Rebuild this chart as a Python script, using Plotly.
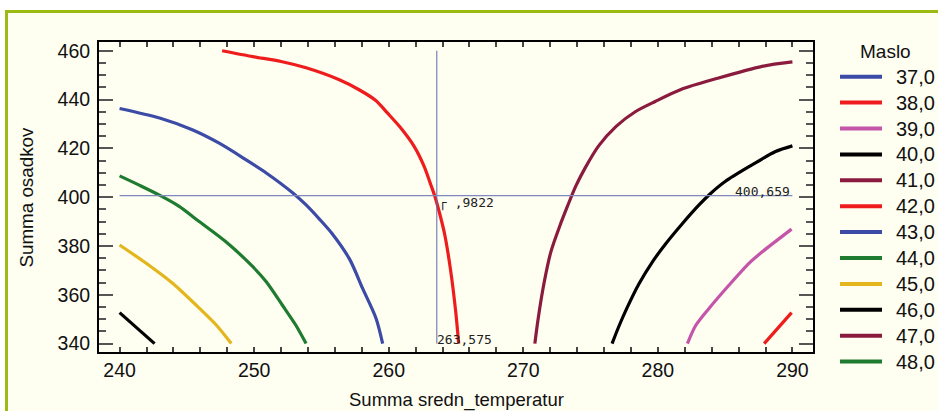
import plotly.graph_objects as go

# ---- data ----
levels = ["37,0", "38,0", "39,0", "40,0", "41,0", "42,0", "43,0", "44,0", "45,0", "46,0", "47,0", "48,0"]
colors = ["#3B4BA6", "#EE1C1C", "#C455A9", "#000000", "#8A1B3E", "#EE1C1C",
          "#3B4BA6", "#1E7B2F", "#E2B61C", "#000000", "#8A1B3E", "#1E7B2F"]
legend_title = "Maslo"

# contour curves (x = Summa sredn_temperatur, y = Summa osadkov)
c38_x = [289.94, 287.9]
c38_y = [352.7, 340.0]
c39_x = [289.94, 287.76, 286.77, 285.28, 283.8, 282.8, 282.2]
c39_y = [386.9, 377.6, 372.9, 363.9, 354.4, 347.3, 340.0]
c40_x = [290.0, 288.75, 287.0, 285.0, 283.8, 283.06, 281.8, 280.6, 279.6, 278.6, 277.7, 277.1, 276.6]
c40_y = [421.0, 418.7, 413.2, 406.4, 400.9, 396.8, 389.0, 381.0, 373.5, 364.5, 354.5, 347.0, 340.0]
c41_x = [290.0, 287.75, 284.3, 281.8, 279.8, 278.35, 276.9, 275.6, 274.6, 273.9, 273.3, 272.7, 272.05, 271.55, 271.1, 270.86]
c41_y = [455.4, 453.6, 448.5, 444.3, 439.2, 435.1, 429.0, 421.0, 412.0, 404.5, 396.5, 388.0, 377.6, 365.0, 350.0, 340.0]
c42_x = [247.62, 249.9, 252.0, 253.86, 256.33, 257.8, 259.06, 259.9, 260.9, 261.9, 262.64, 263.1, 263.45, 263.8, 264.15, 264.6, 264.98, 265.2]
c42_y = [460.0, 457.6, 455.6, 453.0, 448.1, 444.0, 439.5, 434.5, 428.3, 420.7, 412.5, 405.5, 400.0, 393.0, 385.0, 370.0, 353.0, 340.0]
c43_x = [240.0, 242.97, 245.4, 247.4, 249.4, 250.9, 252.9, 253.86, 254.85, 255.8, 257.1, 258.06, 259.06, 259.55]
c43_y = [436.3, 432.4, 427.6, 422.1, 415.3, 409.9, 401.6, 396.8, 391.0, 385.0, 374.5, 362.6, 350.3, 340.0]
c44_x = [240.0, 241.5, 243.0, 244.4, 245.94, 247.9, 249.9, 250.9, 252.1, 253.1, 253.86]
c44_y = [408.7, 404.8, 400.7, 396.3, 389.9, 381.7, 371.5, 365.3, 355.7, 347.5, 340.0]
c45_x = [240.0, 241.98, 243.96, 245.94, 247.2, 248.3]
c45_y = [380.4, 372.9, 364.6, 354.4, 347.5, 340.0]
c46_x = [240.0, 242.6]
c46_y = [352.7, 340.0]

curves_x = {"38,0": c38_x, "39,0": c39_x, "40,0": c40_x, "41,0": c41_x, "42,0": c42_x,
            "43,0": c43_x, "44,0": c44_x, "45,0": c45_x, "46,0": c46_x}
curves_y = {"38,0": c38_y, "39,0": c39_y, "40,0": c40_y, "41,0": c41_y, "42,0": c42_y,
            "43,0": c43_y, "44,0": c44_y, "45,0": c45_y, "46,0": c46_y}

cross_x = 263.575
cross_y = 400.659
cross_x_label = "263,575"
cross_y_label = "400,659"
cross_z_label = "\u250c ,9822"

x_ticks = [240, 250, 260, 270, 280, 290]
y_ticks = [340, 360, 380, 400, 420, 440, 460]
x_title = "Summa sredn_temperatur"
y_title = "Summa osadkov"

# ---- layout geometry (pixels) ----
W, H = 938, 411
ML, MR, MT, MB = 99, 125, 42, 59
PW, PH = W - ML - MR, H - MT - MB


def px_x(px):
    return (px - ML) / PW


def px_y(py):
    return (H - MB - py) / PH


FONT = "Liberation Sans, Arial, sans-serif"

fig = go.Figure()

for lev, col in zip(levels, colors):
    xs = curves_x.get(lev, [None])
    ys = curves_y.get(lev, [None])
    fig.add_trace(go.Scatter(x=xs, y=ys, mode="lines", name=lev,
                             line=dict(color=col, width=3.2, shape="spline", smoothing=0.8),
                             showlegend=False))

# crosshair
fig.add_trace(go.Scatter(x=[cross_x, cross_x], y=[340, 460], mode="lines",
                         line=dict(color="#5D6AAE", width=1), showlegend=False, hoverinfo="skip"))
fig.add_trace(go.Scatter(x=[240, 290], y=[cross_y, cross_y], mode="lines",
                         line=dict(color="#7F89C0", width=1.3), showlegend=False, hoverinfo="skip"))

small = dict(family="DejaVu Sans Mono", size=13, color="#222")
fig.add_annotation(x=cross_x, y=340, text=cross_x_label, showarrow=False,
                   xanchor="left", yanchor="bottom", font=small, xshift=-2, yshift=-5)
fig.add_annotation(x=290, y=cross_y, text=cross_y_label, showarrow=False,
                   xanchor="right", yanchor="bottom", font=small, yshift=-5)
fig.add_annotation(x=cross_x, y=cross_y, text=cross_z_label, showarrow=False,
                   xanchor="left", yanchor="top", font=small, xshift=0, yshift=3)

# page border (green frame)
fig.add_shape(type="rect", xref="paper", yref="paper",
              x0=px_x(6.5), x1=px_x(960), y0=px_y(430), y1=px_y(11.5),
              line=dict(color="#9BBA14", width=3), fillcolor="#FEFEF1", layer="below")

# legend drawn as shapes + text
fig.add_annotation(xref="paper", yref="paper", x=px_x(885), y=px_y(51), text=legend_title,
                   showarrow=False, xanchor="center", yanchor="middle",
                   font=dict(family=FONT, size=19, color="#111"))
for i, (lev, col) in enumerate(zip(levels, colors)):
    yy = 76.7 + i * 25.9
    fig.add_shape(type="line", xref="paper", yref="paper",
                  x0=px_x(840), x1=px_x(882), y0=px_y(yy), y1=px_y(yy),
                  line=dict(color=col, width=4))
    fig.add_annotation(xref="paper", yref="paper", x=px_x(894), y=px_y(yy), text=lev,
                       showarrow=False, xanchor="left", yanchor="middle",
                       font=dict(family=FONT, size=20, color="#111"))

# axis titles
fig.add_annotation(xref="paper", yref="paper", x=px_x(456.5), y=px_y(399.5), text=x_title,
                   showarrow=False, xanchor="center", yanchor="middle",
                   font=dict(family=FONT, size=18.5, color="#111"))
fig.add_annotation(xref="paper", yref="paper", x=px_x(26), y=px_y(197.5), text=y_title,
                   showarrow=False, xanchor="center", yanchor="middle", textangle=-90,
                   font=dict(family=FONT, size=18.8, color="#111"))

axis_font = dict(family=FONT, size=19.5, color="#111")

fig.update_layout(
    width=W, height=H,
    margin=dict(l=ML, r=MR, t=MT, b=MB, autoexpand=False),
    paper_bgcolor="#FFFFFF",
    plot_bgcolor="#FEFEF1",
    font=dict(family=FONT, size=17, color="#111"),
    xaxis=dict(range=[238.47, 291.53], tickvals=x_ticks, ticks="inside", ticklen=5,
               tickcolor="#444", tickwidth=1.5,
               minor=dict(dtick=2, tick0=240, ticks="inside", ticklen=5, tickcolor="#444", tickwidth=1.5),
               showline=True, linecolor="#000", linewidth=2, mirror="ticks",
               showgrid=False, zeroline=False, tickfont=axis_font, automargin=False),
    yaxis=dict(range=[336.55, 463.57], tickvals=y_ticks, ticks="inside", ticklen=14,
               tickcolor="#555", tickwidth=1.5,
               minor=dict(dtick=5, tick0=340, ticks="inside", ticklen=7, tickcolor="#555", tickwidth=1.5),
               showline=True, linecolor="#000", linewidth=2, mirror="ticks",
               showgrid=False, zeroline=False, tickfont=axis_font, automargin=False,
               ticklabelstandoff=3),
    showlegend=False,
)

fig.write_html("out.html", config={"displayModeBar": False},
               post_script="document.body.style.margin='0';document.body.style.overflow='hidden';")
